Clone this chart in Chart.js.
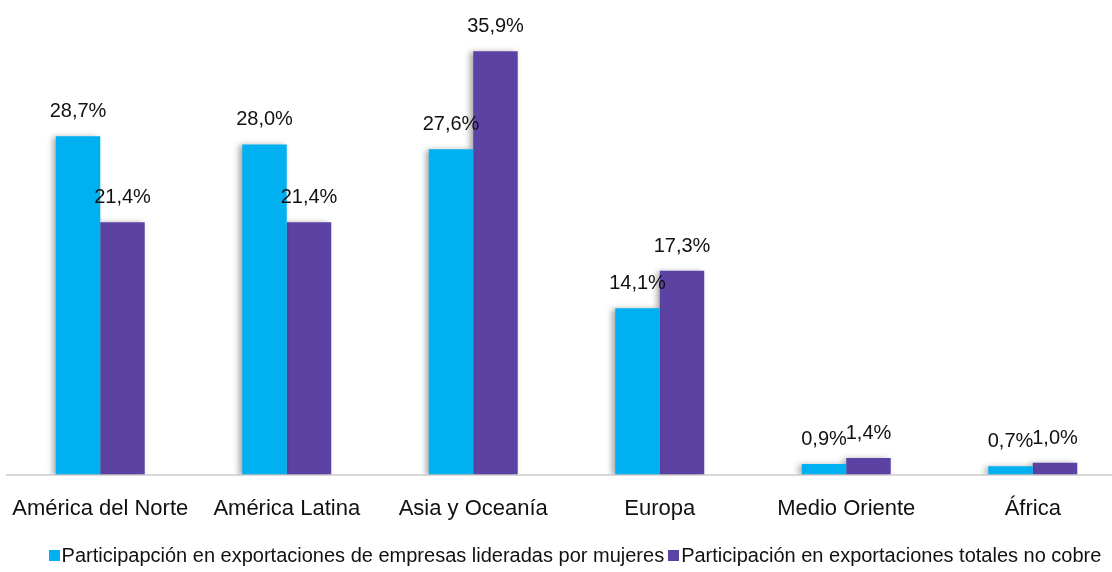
<!DOCTYPE html>
<html>
<head>
<meta charset="utf-8">
<script src="https://cdn.jsdelivr.net/npm/chart.js@4/dist/chart.umd.min.js"></script>
<style>
  html, body { margin: 0; padding: 0; background: #fff; overflow: hidden; }
  #wrap { position: relative; width: 1130px; height: 572px; }
  #legend {
    position: absolute; left: 0; top: 544px; width: 1150px;
    text-align: center; font-family: "Liberation Sans", Arial, sans-serif;
    font-size: 20px; color: #111; white-space: nowrap;
  }
  #legend span.box { display: inline-block; width: 11px; height: 11px; margin-right: 2px; vertical-align: 1px; }
  #legend span.item { margin: 0 2px; }
</style>
</head>
<body>
<div id="wrap">
  <canvas id="chart" width="1130" height="572"></canvas>
  <div id="legend"></div>
</div>
<script>
// chart data
var regiones = ['América del Norte', 'América Latina', 'Asia y Oceanía', 'Europa', 'Medio Oriente', 'África'];
var mujeres = [28.7, 28.0, 27.6, 14.1, 0.9, 0.7];
var totalNoCobre = [21.4, 21.4, 35.9, 17.3, 1.4, 1.0];
var nombreMujeres = 'Participapción en exportaciones de empresas lideradas por mujeres';
var nombreTotal = 'Participación en exportaciones totales no cobre';

var colorMujeres = '#00b0f0';
var colorTotal = '#5c42a2';

// legend in html so the spacing matches
var legendDiv = document.getElementById('legend');
[[nombreMujeres, colorMujeres], [nombreTotal, colorTotal]].forEach(function (it) {
    legendDiv.innerHTML += '<span class="item"><span class="box" style="background:' + it[1] + '"></span>' + it[0] + '</span>';
});

// soft shadow to the left of each bar
var barShadow = {
    id: 'barShadow',
    beforeDatasetsDraw: function (chart) {
        var ctx = chart.ctx;
        ctx.save();
        ctx.shadowColor = 'rgba(0,0,0,0.35)';
        ctx.shadowBlur = 6;
        ctx.shadowOffsetX = -3;
        ctx.shadowOffsetY = 1;
    },
    afterDatasetsDraw: function (chart) {
        chart.ctx.restore();
    }
};

// value labels above bars, comma decimal
var valueLabels = {
    id: 'valueLabels',
    afterDraw: function (chart) {
        var ctx = chart.ctx;
        ctx.save();
        ctx.font = '20px "Liberation Sans", Arial, sans-serif';
        ctx.fillStyle = '#111';
        ctx.textAlign = 'center';
        ctx.textBaseline = 'alphabetic';
        chart.data.datasets.forEach(function (ds, i) {
            chart.getDatasetMeta(i).data.forEach(function (bar, j) {
                var txt = ds.data[j].toFixed(1).replace('.', ',') + '%';
                ctx.fillText(txt, bar.x, bar.y - 19);
            });
        });
        ctx.restore();
    }
};

new Chart(document.getElementById('chart'), {
    type: 'bar',
    data: {
        labels: regiones,
        datasets: [
            { label: nombreMujeres, data: mujeres, backgroundColor: colorMujeres },
            { label: nombreTotal, data: totalNoCobre, backgroundColor: colorTotal }
        ]
    },
    options: {
        responsive: false,
        animation: false,
        layout: { padding: { left: 7, right: 4, top: 3, bottom: 29 } },
        datasets: { bar: { barPercentage: 1, categoryPercentage: 0.477 } },
        plugins: { legend: { display: false }, tooltip: { enabled: false } },
        scales: {
            x: {
                grid: { display: false, drawTicks: false },
                border: { display: true, color: '#d9d9d9', width: 2 },
                ticks: {
                    color: '#111',
                    padding: 21,
                    font: { family: '"Liberation Sans", Arial, sans-serif', size: 22 }
                },
                // labels fit inside their category, no extra side padding
                afterFit: function (scale) {
                    scale.paddingLeft = 0;
                    scale.paddingRight = 0;
                }
            },
            y: { display: false, min: 0, max: 40 }
        }
    },
    plugins: [barShadow, valueLabels]
});
</script>
</body>
</html>
